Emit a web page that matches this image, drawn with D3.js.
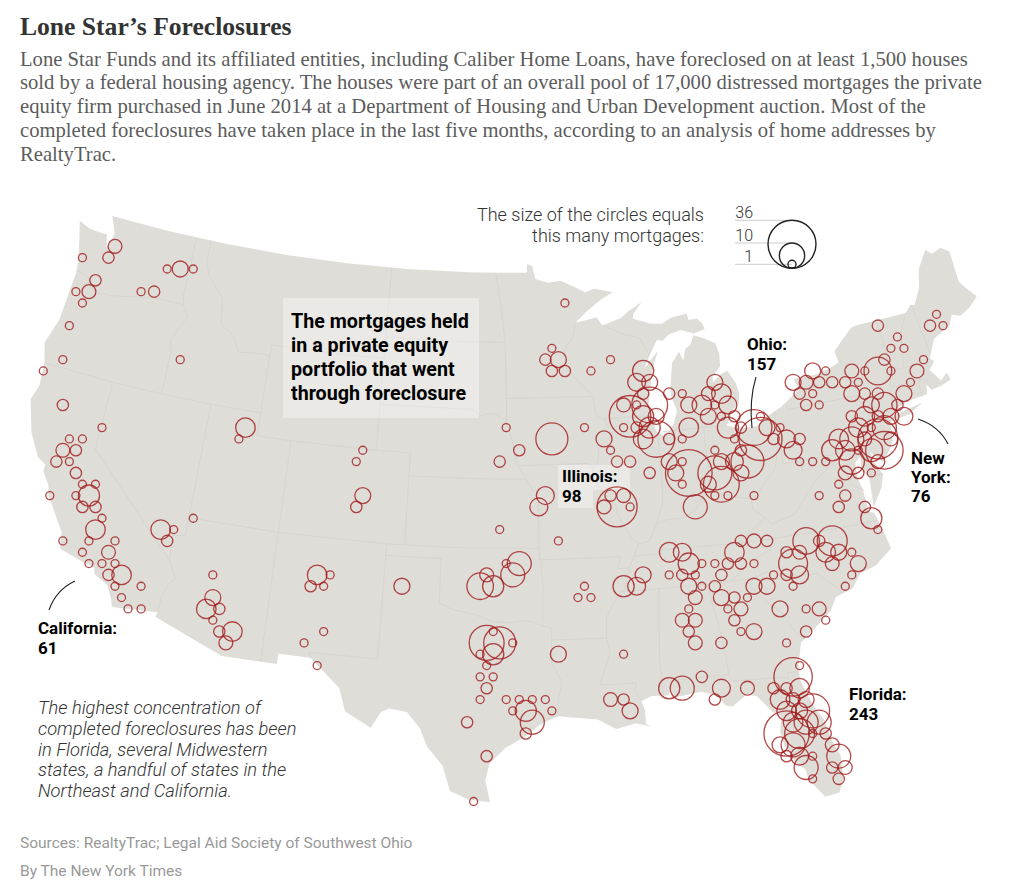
<!DOCTYPE html>
<html>
<head>
<meta charset="utf-8">
<style>
html, body { margin: 0; padding: 0; background: #fff; }
svg { display: block; }
.head { font-family: "Liberation Serif", serif; }
.sans { font-family: Roboto, sans-serif; }
.label { font-family: Roboto, sans-serif; font-weight: 700; font-size: 17px; fill: #000; }
</style>
<script src="https://cdn.jsdelivr.net/npm/d3@7"></script>
</head>
<body>
<svg id="chart" width="1024" height="893"></svg>
<script>
// hexbin cells: [column, row, mortgages]
const westBins = [[11,0,3],[6,1,1],[10,1,2],[19,2,1],[21,2,4],[23,2,1],[8,3,2],[5,4,1],[7,4,3],[15,4,1],[17,4,2],[6,5,1],[4,7,1],[3,10,1],[21,10,1],[0,11,1],[3,14,2],[9,16,1],[31,16,6],[4,17,1],[6,17,1],[30,17,1],[3,18,3],[5,18,2],[49,18,1],[2,19,2],[4,19,1],[48,19,1],[5,20,2],[6,21,1],[8,21,1],[1,22,1],[5,22,1],[7,22,7],[49,22,4],[6,23,2],[8,23,2],[48,23,2],[9,24,1],[23,24,1],[8,25,6],[18,25,6],[20,25,1],[3,26,1],[7,26,1],[11,26,1],[19,26,2],[6,27,1],[10,27,3],[7,28,1],[9,28,1],[11,28,1],[10,29,2],[12,29,6],[26,29,1],[42,29,6],[44,29,1],[11,30,1],[15,30,1],[41,30,2],[43,30,1],[55,30,4],[12,31,1],[26,31,4],[13,32,1],[15,32,1],[25,32,6],[27,32,2],[26,33,1],[27,34,2],[29,34,6],[43,34,1],[28,35,3],[40,35,1],[42,37,1]];
const texasBins = [[70,19,2],[70,25,1],[71,16,1],[71,28,1],[73,28,9],[72,29,9],[68,29,3],[67,30,11],[69,30,7],[69,34,1],[68,35,19],[70,35,16],[72,35,1],[69,36,7],[67,36,1],[68,37,1],[67,38,1],[69,38,1],[68,39,2],[67,40,1],[71,40,1],[72,41,1],[65,42,2],[68,45,2],[66,49,1],[73,40,1],[75,40,1],[77,40,1],[74,41,7],[78,41,1],[75,42,9],[74,43,2],[79,36,4]];
const midwestBins = [[80,5,1],[78,9,1],[77,10,2],[79,10,4],[87,10,1],[78,11,2],[80,11,2],[84,11,1],[92,11,7],[91,12,5],[93,12,4],[92,13,2],[96,13,2],[98,13,1],[89,14,3],[91,14,1],[93,14,20],[90,15,27],[92,15,7],[94,15,4],[83,16,1],[89,16,1],[91,16,2],[93,16,7],[78,17,16],[86,17,4],[92,17,6],[94,17,21],[96,17,2],[98,17,1],[73,18,2],[87,18,1],[88,19,2],[90,19,2],[96,19,4],[98,19,1],[93,20,2],[97,20,4],[99,20,34],[98,21,1],[77,22,5],[76,23,5],[87,22,2],[89,22,3],[86,23,3],[88,23,25],[90,23,1],[100,23,9],[79,26,1]];
const ohioBins = [[103,12,4],[102,13,3],[104,13,6],[99,14,4],[101,14,6],[103,14,1],[105,14,5],[102,15,4],[104,15,1],[106,15,2],[110,15,1],[99,16,6],[105,16,7],[107,16,2],[109,16,20],[111,16,4],[113,16,1],[106,17,1],[110,17,29],[112,17,2],[114,17,5],[116,17,2],[103,18,1],[107,18,2],[115,18,5],[104,19,4],[106,19,5],[108,19,17],[116,19,1],[103,20,18],[107,20,4],[102,21,4],[104,21,20],[103,22,1],[105,22,1],[109,22,1]];
const northeastBins = [[137,6,1],[128,7,2],[136,7,2],[138,7,1],[131,8,1],[130,9,1],[132,9,1],[129,10,2],[135,10,1],[118,11,4],[120,11,1],[124,11,3],[126,11,1],[128,11,12],[130,11,1],[134,11,3],[115,12,4],[117,12,3],[119,12,2],[121,12,2],[123,12,2],[125,12,1],[133,12,1],[116,13,2],[118,13,1],[124,13,4],[126,13,2],[128,13,2],[132,13,4],[117,14,2],[119,14,1],[127,14,4],[129,14,10],[131,14,2],[124,15,2],[126,15,6],[128,15,2],[130,15,4],[132,15,5],[125,16,6],[127,16,1],[129,16,9],[122,17,6],[124,17,9],[126,17,3],[128,17,25],[130,17,3],[121,18,7],[123,18,6],[125,18,1],[127,18,8],[129,18,22],[118,19,1],[120,19,1],[124,19,10],[128,19,3],[123,20,3],[125,20,2],[127,20,1],[122,21,1],[119,22,1],[123,22,2],[122,23,2],[126,23,2],[127,24,7],[128,25,1]];
const southBins = [[107,26,2],[109,26,3],[111,26,2],[117,26,11],[119,26,2],[121,26,14],[96,27,6],[98,27,5],[106,27,6],[114,27,2],[116,27,3],[120,27,6],[122,27,4],[124,27,1],[99,28,7],[101,28,1],[103,28,1],[105,28,2],[107,28,2],[109,28,1],[115,28,13],[121,28,3],[125,28,4],[92,29,4],[96,29,1],[98,29,2],[100,29,1],[104,29,2],[112,29,1],[114,29,2],[116,29,5],[124,29,1],[83,30,1],[89,30,7],[91,30,5],[99,30,4],[101,30,1],[103,30,2],[109,30,4],[111,30,4],[115,30,1],[123,30,1],[82,31,1],[84,31,1],[100,31,3],[104,31,4],[106,31,2],[108,31,1],[99,32,1],[105,32,1],[107,32,3],[113,32,4],[117,32,1],[119,32,3],[98,33,3],[100,33,3],[106,33,2],[120,33,1],[99,34,2],[107,34,1],[109,34,4],[117,34,2],[100,35,3],[104,35,2],[114,35,1],[89,36,1],[101,38,2],[96,39,7],[98,39,9],[104,39,5],[108,39,3],[87,40,3],[89,40,2],[103,40,2],[90,41,4]];
const floridaBins = [[116,37,1],[115,38,23],[112,39,2],[114,39,2],[116,39,6],[113,40,6],[115,40,3],[117,40,4],[114,41,6],[116,41,4],[118,41,18],[115,42,6],[117,42,9],[119,42,9],[114,43,32],[116,43,14],[118,43,1],[120,43,2],[113,44,4],[115,44,9],[121,44,3],[114,45,2],[116,45,5],[118,45,1],[122,45,9],[117,46,9],[121,46,2],[123,46,3],[118,47,1],[122,47,2]];
const allBins = [westBins, texasBins, midwestBins, ohioBins, northeastBins, southBins, floridaBins];

const legendValues = [36, 10, 1];
const maxColumn = 140, maxRow = 49;

// lon/lat, clockwise from Cape Flattery
const landOutline = [[-124.7,48.38],[-123.9,48.17],[-123.1,48.15],[-122.75,48.15],[-122.55,47.6],[-122.4,47.9],[-122.3,48.3],[-122.76,49],[-119,49],[-115,49],[-111,49],[-107,49],[-103,49],[-99,49],[-97.2,49],[-95.15,49],[-95.15,49.38],[-94.8,49.3],[-94.6,48.72],[-93.8,48.55],[-92.95,48.62],[-92,48.3],[-91.4,48.07],[-90.8,48.2],[-89.6,48],
[-90.3,47.75],[-91.3,47.25],[-92.1,46.75],[-91.2,46.87],[-90.75,46.95],[-90.4,46.57],[-89.2,46.85],[-88.6,47.15],[-87.8,47.47],[-88.4,46.98],[-88.45,46.78],[-87.4,46.5],[-86.6,46.45],[-86,46.67],[-85,46.77],[-84.95,46.48],[-84.4,46.5],[-84.1,46.25],[-84,46],[-84.72,45.87],[-85.5,46.08],[-86.3,45.93],[-86.7,45.7],[-87.05,45.75],[-87.6,45.1],[-88,44.55],[-87.05,45.28],[-87.5,44.5],[-87.7,43.75],[-87.9,43],[-87.8,42.3],[-87.55,41.75],[-87.2,41.62],[-86.8,41.77],[-86.5,42.1],[-86.25,42.6],[-86.5,43.2],[-86.5,43.65],[-86.25,44.7],[-85.75,45.15],[-85.55,44.75],[-85.35,45.25],[-85,45.4],[-84.75,45.78],
[-84.2,45.63],[-83.45,45.33],[-83.3,44.85],[-83.35,44.3],[-83.9,43.9],[-83.9,43.65],[-83.4,43.95],[-82.95,44.07],[-82.55,43.5],[-82.42,43],[-82.55,42.6],[-83.05,42.3],[-83.15,42],[-83.45,41.72],[-82.7,41.5],[-81.7,41.5],[-81,41.85],[-80.1,42.15],[-79,42.7],[-78.9,42.9],[-79.05,43.27],[-77.6,43.27],[-76.5,43.5],[-76.2,43.6],[-76.3,44.1],[-75.8,44.45],[-75,44.95],[-74.7,45],[-73.35,45.01],[-71.5,45.01],[-71.1,45.3],[-70.85,45.25],[-70.3,45.9],[-70,46.7],[-69.25,47.45],[-68.9,47.2],[-68.3,47.35],[-67.8,47.07],[-67.8,45.7],[-67.45,45.3],[-67,44.85],
[-67.6,44.5],[-68.3,44.25],[-68.8,44.4],[-69.1,44],[-69.8,43.75],[-70.25,43.6],[-70.6,43.1],[-70.8,42.85],[-70.6,42.65],[-71,42.35],[-70.65,41.95],[-70.5,41.78],[-70.05,42.05],[-69.95,41.7],[-70.6,41.55],[-71.15,41.5],[-71.4,41.75],[-71.5,41.37],[-72.9,41.25],[-73.65,40.98],[-73.75,40.8],[-72.6,40.98],[-71.87,41.07],[-72.8,40.72],[-74,40.58],[-74,40.3],[-74.1,39.75],[-74.4,39.4],[-74.9,38.95],[-75.2,39.25],[-75.5,39.5],[-75.4,39.05],[-75.05,38.45],[-75.3,37.9],[-75.95,37.15],[-75.85,38.4],[-76.2,38.9],[-76.1,39.4],[-76.45,39.2],[-76.5,38.5],[-76.35,38.05],[-76.3,37.5],[-76.3,37],[-76,36.9],[-75.75,36.2],[-75.5,35.25],[-76.5,34.65],[-77.4,34.45],[-77.95,33.87],[-78.9,33.65],[-79.3,33.1],[-79.9,32.7],[-80.7,32.2],[-81.1,31.95],[-81.4,31],[-81.45,30.4],[-81.25,29.8],[-80.9,29],[-80.55,28.45],[-80.35,27.5],[-80.05,26.8],[-80.1,25.8],[-80.4,25.2],[-81.1,25.12],[-81.75,25.95],[-81.85,26.45],[-82.25,26.8],[-82.7,27.65],[-82.8,28.2],[-82.65,28.9],[-83.05,29.15],[-83.7,29.9],[-84.2,30.05],[-85,29.6],[-85.35,29.68],[-85.7,30.15],[-86.5,30.38],[-87.5,30.28],[-88,30.25],[-88,30.65],[-88.15,30.35],[-89,30.38],[-89.55,30.2],[-89.4,29.8],[-89.4,29.2],[-89.15,29.05],[-89.9,29.25],[-90.9,29.05],[-91.8,29.5],[-92.3,29.55],[-93.8,29.7],[-94.7,29.35],[-95.3,28.9],[-96.4,28.35],[-97.2,27.65],[-97.4,26.9],[-97.15,25.95],
[-98.2,26.05],[-99.1,26.4],[-99.5,27.5],[-100.3,28.3],[-100.7,29.1],[-101.4,29.77],[-102.3,29.88],[-102.7,29.7],[-103.15,28.98],[-104.5,29.6],[-104.9,30.6],[-106.53,31.78],[-108.2,31.78],[-108.2,31.33],[-111.07,31.33],[-114.8,32.5],[-114.72,32.72],[-117.12,32.53],[-117.25,32.85],[-117.6,33.4],[-118.4,33.75],[-118.5,34.03],[-119.2,34.15],[-120.5,34.45],[-120.65,35.15],[-121.9,36.6],[-122,36.95],[-122.5,37.5],[-122.5,37.8],[-123,38],[-123.75,38.95],[-124.35,40.3],[-124.1,41],[-124.2,42],[-124.55,42.85],[-124.1,44],[-123.95,46.2],[-124.1,46.9],[-124.7,48.38]];

const stateBorders = [
[[-124,46.25],[-123.2,46.15],[-122.8,45.7],[-122.3,45.55],[-121.2,45.65],[-119.3,45.93],[-119,46],[-116.92,46]],
[[-117.03,49],[-117.04,46.42],[-116.92,46],[-116.5,45.5],[-116.85,45],[-117.2,44.4],[-117.03,43.8],[-117.03,42]],
[[-124.2,42],[-120,42],[-117,42],[-114,42],[-111.05,42]],
[[-120,42],[-120,39],[-114.63,35],[-114.15,34.3],[-114.45,34],[-114.7,33.4],[-114.72,32.72]],
[[-114.63,35],[-114.75,36.1],[-114.05,36.2]],
[[-114.05,36.2],[-114.05,42]],
[[-116.05,49],[-116.05,48],[-115.7,47.45],[-114.6,46.65],[-114.35,45.5],[-113.5,45.1],[-113,44.45],[-111.5,44.55],[-111.05,44.48]],
[[-111.05,45],[-111.05,41],[-109.05,41],[-104.05,41],[-102.05,41]],
[[-111.05,45],[-107,45],[-104.05,45]],
[[-104.05,49],[-104.05,41]],
[[-109.05,41],[-109.05,31.33]],
[[-114.05,37],[-109.05,37],[-103,37],[-99,37],[-94.62,37]],
[[-103.04,37],[-103.06,32],[-106.62,32],[-106.53,31.78]],
[[-102.05,41],[-102.05,37]],
[[-104.05,43],[-98.5,43],[-98,42.75],[-97.2,42.85],[-96.45,42.5]],
[[-104.05,45.94],[-100,45.94],[-96.56,45.94]],
[[-102.05,40],[-98,40],[-95.3,40]],
[[-103,36.5],[-100,36.5],[-100,34.56],[-99.2,34.3],[-98.1,34.13],[-97.2,33.85],[-96.4,33.78],[-95.3,33.88],[-94.48,33.64]],
[[-94.62,37],[-94.43,35.4],[-94.48,33.64],[-94.04,33.55],[-94.04,31.99],[-93.55,31.2],[-93.75,30.4],[-93.8,29.7]],
[[-97.2,49],[-96.85,47.6],[-96.56,45.94],[-96.45,43.5],[-96.45,42.5],[-96.1,41.7],[-95.85,40.7],[-95.3,40],[-94.62,39.1],[-94.62,36.5]],
[[-96.45,43.5],[-91.22,43.5]],
[[-95.77,40.58],[-91.73,40.61],[-91.42,40.38]],
[[-92.1,46.75],[-92.3,46.1],[-92.85,45.6],[-92.75,44.75],[-91.22,43.5],[-91.1,42.7],[-90.65,42.5],[-90.15,41.8],[-91.05,41.2],[-91.1,40.7],[-91.42,40.38],[-91.5,40],[-90.7,39],[-90.2,38.7],[-90.2,38.4],[-89.5,37.3],[-89.15,37],[-89.4,36.5],[-89.7,36],[-90.05,35.1],[-90.6,34.6],[-91.1,33.9],[-91.15,33],[-91,32.4],[-91.6,31],[-89.73,31],[-89.85,30.65],[-89.55,30.2]],
[[-94.04,33.02],[-91.15,33.02]],
[[-94.62,36.5],[-90.15,36.5],[-90.35,36],[-89.7,36]],
[[-90.3,35],[-88.2,35],[-85.6,35],[-84.32,35],[-83.1,35]],
[[-89.4,36.5],[-88.05,36.5],[-88.05,36.68],[-83.68,36.6],[-81.68,36.59],[-78,36.55],[-75.87,36.55]],
[[-81.68,36.59],[-82,36.1],[-83.1,35.77],[-84.32,35]],
[[-88.2,35],[-88.47,31.9],[-88.4,30.3]],
[[-85.6,35],[-85.18,32.87],[-85.05,32],[-85,31],[-84.86,30.7],[-82.2,30.57],[-82.05,30.35],[-82,30.75],[-81.45,30.7]],
[[-87.45,30.35],[-87.6,31],[-85,31]],
[[-83.1,35],[-83.35,34.7],[-82.5,33.9],[-81.9,33.4],[-81.4,32.6],[-80.9,32.05]],
[[-83.1,35],[-82.3,35.2],[-81.05,35.15],[-80.8,34.82],[-79.67,34.8],[-78.55,33.86]],
[[-89.15,37],[-88.5,37.1],[-88.05,37.8],[-87.5,37.95],[-86.5,37.95],[-85.75,38.27],[-85.4,38.7],[-84.8,39.1],[-84.3,38.85],[-83.7,38.65],[-82.6,38.42],[-82.2,38.6],[-81.75,39],[-81,39.55],[-80.65,40.5],[-80.52,40.64]],
[[-87.53,41.7],[-87.53,39.35],[-87.6,38.7],[-88.05,37.8]],
[[-84.8,41.7],[-84.8,39.1]],
[[-87.2,41.76],[-84.8,41.76],[-83.45,41.72]],
[[-90.65,42.5],[-87.8,42.5]],
[[-90.4,46.57],[-89,46.1],[-88.1,45.9],[-87.6,45.1]],
[[-80.52,41.98],[-80.52,39.72],[-79.48,39.72],[-77,39.72],[-75.79,39.72],[-75.4,39.8]],
[[-79.76,42.25],[-79.76,42],[-75.35,42],[-74.7,41.36],[-73.9,41]],
[[-79.48,39.72],[-79.48,39.2],[-78.4,39.62],[-77.72,39.32],[-77.05,38.85],[-76.95,38.3],[-76.3,37.95]],
[[-77.72,39.32],[-78.87,38.76],[-80.3,37.5],[-81.68,37.2],[-81.96,37.54],[-83.68,36.6]],
[[-82.6,38.42],[-82.6,37.95],[-81.96,37.54]],
[[-75.79,39.72],[-75.7,38.46],[-75.05,38.45]],
[[-74.7,41.36],[-75.13,40.97],[-74.75,40.2],[-75.4,39.8]],
[[-73.65,41],[-73.5,42.05],[-73.27,42.75],[-73.25,43.6],[-73.4,45.01]],
[[-73.5,42.05],[-71.8,42.02],[-71.38,42.02],[-71.15,41.5]],
[[-71.8,42.02],[-71.85,41.32]],
[[-73.27,42.75],[-71.3,42.7],[-70.8,42.87]],
[[-72.46,42.73],[-72.3,43.6],[-72.05,44.3],[-71.5,45.01]],
[[-70.7,43.07],[-71.05,45.3]]
];

const headline = "Lone Star’s Foreclosures";
const introLines = [
  "Lone Star Funds and its affiliated entities, including Caliber Home Loans, have foreclosed on at least 1,500 houses",
  "sold by a federal housing agency. The houses were part of an overall pool of 17,000 distressed mortgages the private",
  "equity firm purchased in June 2014 at a Department of Housing and Urban Development auction. Most of the",
  "completed foreclosures have taken place in the last five months, according to an analysis of home addresses by",
  "RealtyTrac."
];
const noteLines = [
  "The highest concentration of",
  "completed foreclosures has been",
  "in Florida, several Midwestern",
  "states, a handful of states in the",
  "Northeast and California."
];
const boxLines = ["The mortgages held", "in a private equity", "portfolio that went", "through foreclosure"];

var svg = d3.select("#chart");

var projection = d3.geoConicEqualArea()
    .parallels([29.5, 45.5])
    .rotate([96, 0])
    .center([0, 37.5])
    .scale(1312)
    .translate([514, 537]);
var geoPath = d3.geoPath(projection);

var colScale = d3.scaleLinear().domain([0, maxColumn]).range([43.3, 956.1]);
var rowScale = d3.scaleLinear().domain([0, maxRow]).range([246.33, 801.5]);
var radius = d3.scaleSqrt().domain([0, 36]).range([0, 24]);

function addLines(lines, x, y, step, attrs) {
    var t = svg.append("g");
    lines.forEach(function(line, i) {
        var el = t.append("text").attr("x", x).attr("y", y + i * step).text(line);
        for (const [key, value] of Object.entries(attrs)) el.attr(key, value);
    });
    return t;
}

// title block
svg.append("text").attr("class", "head").attr("x", 20).attr("y", 35)
    .attr("font-size", 25.6).attr("font-weight", 700).attr("fill", "#333").text(headline);
addLines(introLines, 20, 65.5, 23.8, {"class": "head", "font-size": 20.65, "fill": "#5c5c5c"});

// map
svg.append("path")
    .datum({type: "Polygon", coordinates: [landOutline]})
    .attr("d", geoPath)
    .attr("fill", "#dfddd8");
svg.append("path")
    .datum({type: "MultiLineString", coordinates: stateBorders})
    .attr("d", geoPath)
    .attr("fill", "none")
    .attr("stroke", "#d5d4cf")
    .attr("stroke-width", 0.9);

// white panels under the labels
svg.append("rect").attr("x", 283).attr("y", 298).attr("width", 196).attr("height", 120)
    .attr("fill", "#fff").attr("fill-opacity", 0.35);
svg.append("path").attr("d", "M558,465H630V490H593V508H558Z")
    .attr("fill", "#fff").attr("fill-opacity", 0.35);

// circles
svg.append("g").selectAll("circle")
    .data(allBins.flat())
    .enter().append("circle")
    .attr("cx", function(d) { return colScale(d[0]); })
    .attr("cy", function(d) { return rowScale(d[1]); })
    .attr("r", function(d) { return radius(d[2]); })
    .attr("fill", "none")
    .attr("stroke", "#a01c1c")
    .attr("stroke-opacity", 0.8)
    .attr("stroke-width", 1.3);

// size legend
addLines(["The size of the circles equals"], 704, 221, 0, {"class": "sans", "font-size": 18, "font-weight": 300, "fill": "#333", "text-anchor": "end"});
addLines(["this many mortgages:"], 704, 242, 0, {"class": "sans", "font-size": 18, "font-weight": 300, "fill": "#333", "text-anchor": "end"});
var legendBottom = 268.3, legendX = 792;
// the smallest circle's line runs through its centre, the others touch the top
function legendLineY(d) { return legendBottom - (d == 1 ? 1 : 2) * radius(d); }
var legend = svg.append("g");
legend.selectAll("line").data(legendValues).enter().append("line")
    .attr("x1", 735).attr("x2", legendX)
    .attr("y1", legendLineY)
    .attr("y2", legendLineY)
    .attr("stroke", "#ccc").attr("stroke-width", 1);
legend.selectAll("circle").data(legendValues).enter().append("circle")
    .attr("cx", legendX)
    .attr("cy", function(d) { return legendBottom - radius(d); })
    .attr("r", function(d) { return radius(d); })
    .attr("fill", "none").attr("stroke", "#222").attr("stroke-width", 1.4);
legend.selectAll("text").data(legendValues).enter().append("text")
    .attr("class", "sans")
    .attr("x", 753)
    .attr("y", function(d) { return legendLineY(d) - 2.5; })
    .attr("text-anchor", "end").attr("font-size", 16).attr("font-weight", 300).attr("fill", "#333")
    .text(function(d) { return d; });

// annotations
addLines(boxLines, 291, 328, 24, {"class": "sans", "font-size": 19.7, "font-weight": 700, "fill": "#000"});
addLines(["Ohio:", "157"], 747, 350, 19.5, {"class": "label"});
addLines(["Illinois:", "98"], 562, 482, 19.5, {"class": "label"});
addLines(["New", "York:", "76"], 911, 464, 19, {"class": "label"});
addLines(["California:", "61"], 38, 634, 19.5, {"class": "label"});
addLines(["Florida:", "243"], 849, 700, 19.5, {"class": "label"});

var leaders = ["M756,377Q749,400 752,428", "M918,419Q939,426 948,444", "M75,581Q56,590 49,610"];
svg.append("g").selectAll("path").data(leaders).enter().append("path")
    .attr("d", function(d) { return d; })
    .attr("fill", "none").attr("stroke", "#222").attr("stroke-width", 1.1);

addLines(noteLines, 38, 714, 20.8, {"class": "sans", "font-size": 18.3, "font-style": "italic", "font-weight": 300, "fill": "#333"});

// credits
addLines(["Sources: RealtyTrac; Legal Aid Society of Southwest Ohio"], 20, 848, 0, {"class": "sans", "font-size": 15.5, "fill": "#999"});
addLines(["By The New York Times"], 20, 876, 0, {"class": "sans", "font-size": 15.5, "fill": "#999"});
</script>
</body>
</html>
